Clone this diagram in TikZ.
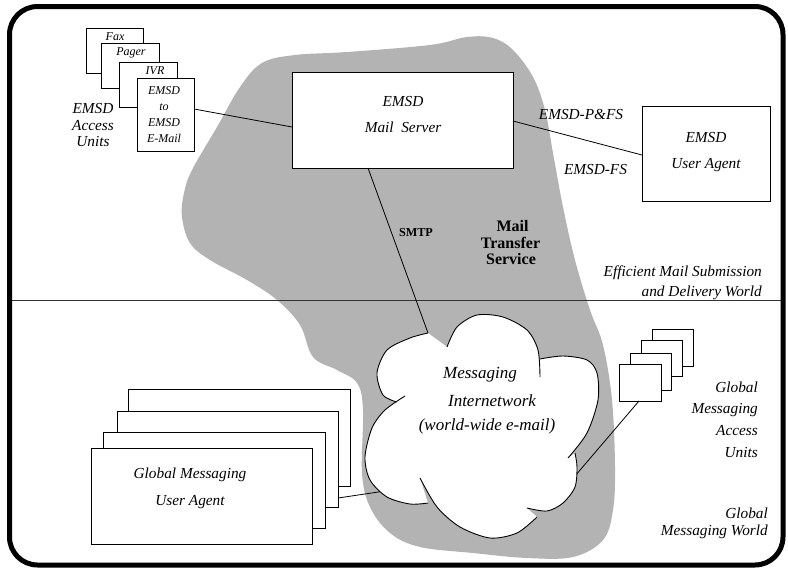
\documentclass[tikz,border=0pt]{standalone}
\usepackage{fontspec}
\setmainfont{Liberation Serif}
\definecolor{blobgray}{RGB}{179,179,179}
\tikzset{
  frame/.style={line width=5pt, rounded corners=28pt},
  ubox/.style={draw, line width=0.9pt, fill=white, anchor=north west, inner sep=0pt},
  conn/.style={line width=0.8pt},
  cloudline/.style={line width=0.9pt},
  lbl/.style={inner sep=0pt, anchor=base, font=\itshape\fontsize{15.3}{16}\selectfont},
  lblr/.style={lbl, anchor=base east},
  small/.style={inner sep=0pt, anchor=base, font=\itshape\fontsize{12}{13}\selectfont},
  cloudtxt/.style={inner sep=0pt, anchor=base, font=\itshape\fontsize{17}{18}\selectfont},
  boldlbl/.style={inner sep=0pt, anchor=base, font=\bfseries\fontsize{16}{17}\selectfont},
  smtp/.style={inner sep=0pt, anchor=base, font=\bfseries\fontsize{12.2}{13}\selectfont}
}
\begin{document}
\begin{tikzpicture}[x=1pt,y=-1pt]
\useasboundingbox (0,0) rectangle (788,571);

% Mail Transfer Service blob
\fill[blobgray] plot[smooth cycle, tension=0.6] coordinates {
 (240,87) (262,63) (295,55) (347,52) (430,45) (467,37) (493,38) (513,50)
 (533,77) (545,110) (553,153) (563,207) (575,260) (590,310) (603,345)
 (612,400) (615,467) (613,510) (603,540) (573,557) (527,558) (473,553)
 (420,547) (390,533) (370,507) (362,473) (363,410) (357,383) (337,370)
 (313,357) (300,325) (277,300) (247,280) (210,260) (190,243) (182,217)
 (184,193) (192,170) (217,127)};

% separator
\draw[line width=1pt, black!80] (12,300) -- (781,300);

% outer frame
\draw[frame] (9.5,6.5) rectangle (783,565);

% EMSD access unit stack
\node[ubox, minimum width=57pt, minimum height=45pt] (fax) at (86,28) {};
\node[small] (faxt) at (115,40) {Fax};
\node[ubox, minimum width=58pt, minimum height=45pt] (pager) at (101,43) {};
\node[small] (pagert) at (131,55) {Pager};
\node[ubox, minimum width=58pt, minimum height=45pt] (ivr) at (119,62) {};
\node[small] (ivrt) at (155,74) {IVR};
\node[ubox, minimum width=57pt, minimum height=73pt] (e2e) at (137,78) {};
\node[small] (e2e1) at (164,94) {EMSD};
\node[small] (e2e2) at (164,110) {to};
\node[small] (e2e3) at (164,126) {EMSD};
\node[small] (e2e4) at (164,142) {E-Mail};

\node[lbl] (eau1) at (93,113) {EMSD};
\node[lbl] (eau2) at (93,130) {Access};
\node[lbl] (eau3) at (93,146) {Units};

% Mail server
\node[ubox, minimum width=221pt, minimum height=96pt] (ms) at (292,72) {};
\node[lbl] (ms1) at (403,106) {EMSD};
\node[lbl] (ms2) at (403,132) {Mail\ \ Server};

% User agent
\node[ubox, minimum width=128pt, minimum height=95pt] (ua) at (642,106) {};
\node[lbl] (ua1) at (706,142.7) {EMSD};
\node[lbl] (ua2) at (706,168) {User Agent};

\node[lbl] (pfs) at (581,119) {EMSD-P\&FS};
\node[lbl] (fs) at (595.5,174) {EMSD-FS};

\node[lblr] (eff1) at (762,276) {Efficient Mail Submission};
\node[lblr] (eff2) at (762,296.5) {and Delivery World};

\node[boldlbl] (mts1) at (512.5,231) {Mail};
\node[boldlbl] (mts2) at (510.5,248) {Transfer};
\node[boldlbl] (mts3) at (511,264) {Service};

\node[smtp] (smtpt) at (416,236) {SMTP};

% connector endpoints
\coordinate (e2eR) at (194,109);
\coordinate (msL) at (292,127);
\coordinate (msR) at (513,121);
\coordinate (uaL) at (642,155);
\coordinate (msB) at (368,168);
\coordinate (cloudT) at (428,333);

\draw[conn] (e2eR) -- (msL);
\draw[conn] (msR) -- (uaL);
\draw[conn] (msB) -- (cloudT);

% Global messaging user agent stack
\node[ubox, minimum width=222pt, minimum height=97pt] (gua4) at (128,389) {};
\node[ubox, minimum width=221pt, minimum height=96pt] (gua3) at (117,411) {};
\node[ubox, minimum width=222pt, minimum height=96pt] (gua2) at (103,432) {};
\node[ubox, minimum width=221pt, minimum height=96pt] (gua1) at (91,448) {};
\node[lbl] (gua1a) at (190,478) {Global Messaging};
\node[lbl] (gua1b) at (190,505) {User Agent};

% Global messaging access units stack
\node[ubox, minimum width=41pt, minimum height=37pt] (gau4) at (652,329) {};
\node[ubox, minimum width=41pt, minimum height=36pt] (gau3) at (641,340) {};
\node[ubox, minimum width=41pt, minimum height=37pt] (gau2) at (630,353) {};
\node[ubox, minimum width=42pt, minimum height=37pt] (gau1) at (619,364) {};

\node[lblr] (gau1t) at (758,392) {Global};
\node[lblr] (gau2t) at (758,413.5) {Messaging};
\node[lblr] (gau3t) at (758,435) {Access};
\node[lblr] (gau4t) at (758,457) {Units};

\node[lblr] (gmw1) at (768,518) {Global};
\node[lblr] (gmw2) at (768,535) {Messaging World};

\coordinate (guaR) at (338,498);
\coordinate (cloudL) at (385,491);
\coordinate (gauB) at (639,401);
\coordinate (cloudR) at (575,476);
\draw[conn] (guaR) -- (cloudL);
\draw[conn] (gauB) -- (cloudR);

% cloud
\fill[white]
  plot[smooth] coordinates {(540,377) (538,350) (527,330) (503,317) (477,315) (457,327) (447,347)}
  -- plot[smooth] coordinates {(428,333) (410,338) (387,350) (377,373) (383,395) (397,402)}
  -- plot[smooth] coordinates {(405,396) (385,410) (372,428) (365,457) (370,480) (387,497) (410,504) (428,503)}
  -- plot[smooth] coordinates {(420,478) (437,507) (460,527) (490,538) (517,533) (537,517)}
  -- plot[smooth] coordinates {(527,508) (547,511) (563,503) (575,487) (577,467) (575,453)}
  -- plot[smooth] coordinates {(568,458) (587,433) (598,400) (597,373) (587,360) (563,356) (540,359)}
  -- cycle;
\draw[cloudline] plot[smooth] coordinates {(540,377) (538,350) (527,330) (503,317) (477,315) (457,327) (447,347)};
\draw[cloudline] plot[smooth] coordinates {(428,333) (410,338) (387,350) (377,373) (383,395) (397,402)};
\draw[cloudline] plot[smooth] coordinates {(405,396) (385,410) (372,428) (365,457) (370,480) (387,497) (410,504) (428,503)};
\draw[cloudline] plot[smooth] coordinates {(420,478) (437,507) (460,527) (490,538) (517,533) (537,517)};
\draw[cloudline] plot[smooth] coordinates {(527,508) (547,511) (563,503) (575,487) (577,467) (575,453)};
\draw[cloudline] plot[smooth] coordinates {(568,458) (587,433) (598,400) (597,373) (587,360) (563,356) (540,359)};

\node[cloudtxt] (c1) at (480,378) {Messaging};
\node[cloudtxt] (c2) at (492,406) {Internetwork};
\node[cloudtxt] (c3) at (487,430) {(world-wide e-mail)};
\end{tikzpicture}
\end{document}
